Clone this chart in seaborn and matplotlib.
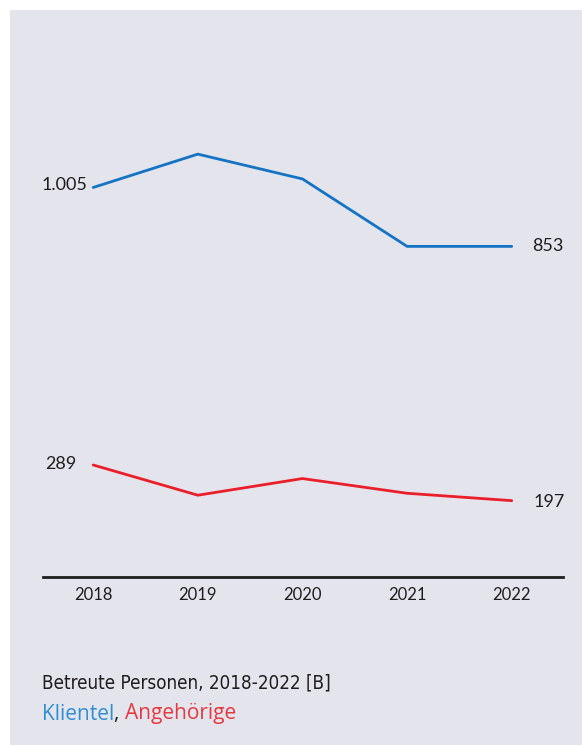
import matplotlib
matplotlib.use("Agg")
import matplotlib.pyplot as plt
from matplotlib.patches import Rectangle
import seaborn as sns
import pandas as pd

years = [2018, 2019, 2020, 2021, 2022]
klientel = [1005, 1091, 1027, 853, 853]
angehoerige = [289, 211, 254, 216, 197]
start_labels = ["1.005", "289"]
end_labels = ["853", "197"]
title = "Betreute Personen, 2018-2022 [B]"
series_names = ["Klientel", "Angehörige"]

blue = "#1473c4"
red = "#ea1f2a"
bg = "#e4e4ed"
ink = "#1e1e1e"

sns.set_theme(style="white")
plt.rcParams['font.family'] = ['Lato', 'DejaVu Sans']

df = pd.DataFrame({
    "Jahr": years * 2,
    "Wert": klientel + angehoerige,
    "Serie": [series_names[0]] * len(years) + [series_names[1]] * len(years),
})

fig = plt.figure(figsize=(5.82, 7.45), dpi=100, facecolor="white")
fig.patches.append(Rectangle((10 / 582, 0), 1, 1 - 10 / 745, transform=fig.transFigure,
                             facecolor=bg, edgecolor="none", zorder=-10))

W, H = 582, 745
ax = fig.add_axes([43 / W, 1 - 577 / H, (563 - 43) / W, (577 - 20) / H])
ax.set_facecolor("none")
sns.lineplot(data=df, x="Jahr", y="Wert", hue="Serie", palette=[blue, red],
             linewidth=2, ax=ax, legend=False)
ax.set_xlim(2017.52, 2022.49)
ax.set_ylim(0, (577 - 20) * 2.58)
for s in ["top", "right", "left"]:
    ax.spines[s].set_visible(False)
ax.spines["bottom"].set_color(ink)
ax.spines["bottom"].set_linewidth(2)
ax.set_xticks(years)
ax.set_xticklabels([str(y) for y in years], fontsize=12, color=ink)
ax.tick_params(axis="x", length=0, pad=7)
ax.set_yticks([])
ax.set_xlabel("")
ax.set_ylabel("")

# value labels
fs = 13
ax.annotate(start_labels[0], (years[0], klientel[0]), xytext=(-4, 2), textcoords="offset points",
            ha="right", va="center", fontsize=fs, color=ink)
ax.annotate(end_labels[0], (years[-1], klientel[-1]), xytext=(15, 0), textcoords="offset points",
            ha="left", va="center", fontsize=fs, color=ink)
ax.annotate(start_labels[1], (years[0], angehoerige[0]), xytext=(-12, 1), textcoords="offset points",
            ha="right", va="center", fontsize=fs, color=ink)
ax.annotate(end_labels[1], (years[-1], angehoerige[-1]), xytext=(16, -1), textcoords="offset points",
            ha="left", va="center", fontsize=fs, color=ink)

# title and subtitle
renderer = fig.canvas.get_renderer()
tt = fig.text(42 / W, 1 - 683 / H, title, fontsize=16, color=ink, va="center", ha="left",
              family=['DejaVu Sans'], stretch="condensed", weight="medium")
bb = tt.get_window_extent(renderer=renderer)
target = 291.0
tt.set_fontsize(16 * target / bb.width)

x = 42 / W
y = 1 - 714 / H
parts = [(series_names[0], "#2f8fd3"), (", ", ink), (series_names[1], "#e8383f")]
for txt, col in parts:
    t = fig.text(x, y, txt, fontsize=15, color=col, va="center", ha="left",
                 family=['Open Sans', 'DejaVu Sans'])
    bb = t.get_window_extent(renderer=renderer)
    x += bb.width / fig.bbox.width

fig.savefig("out.png", dpi=100, facecolor="white")
